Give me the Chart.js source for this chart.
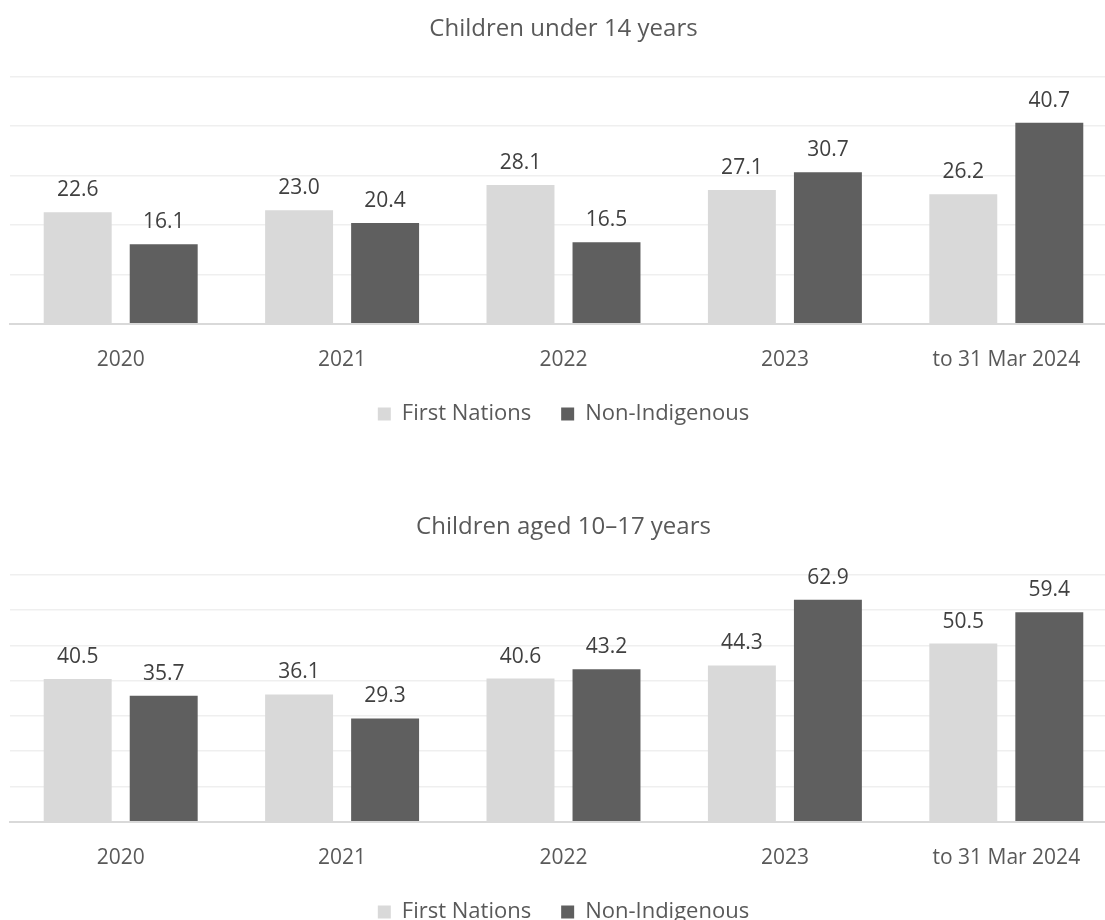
<!DOCTYPE html>
<html><head><meta charset="utf-8">
<script src="https://cdn.jsdelivr.net/npm/chart.js@4/dist/chart.umd.min.js"></script>
<style>
html,body{margin:0;padding:0;background:#fff;overflow:hidden;width:1105px;height:920px}
.wrap{position:relative;width:1127px;height:498px}
canvas{display:block}
</style></head><body>
<div class="wrap"><canvas id="c1" width="1127" height="498"></canvas></div>
<div class="wrap"><canvas id="c2" width="1127" height="498"></canvas></div>
<script>
const categories = ['2020', '2021', '2022', '2023', 'to 31 Mar 2024'];
const seriesNames = ['First Nations', 'Non-Indigenous'];
const under14FirstNations = [22.6, 23.0, 28.1, 27.1, 26.2];
const under14NonIndigenous = [16.1, 20.4, 16.5, 30.7, 40.7];
const aged10to17FirstNations = [40.5, 36.1, 40.6, 44.3, 50.5];
const aged10to17NonIndigenous = [35.7, 29.3, 43.2, 62.9, 59.4];
const under14Ticks = [0, 10, 20, 30, 40, 50];
const aged10to17Ticks = [0, 10, 20, 30, 40, 50, 60, 70];
const titles = ['Children under 14 years', 'Children aged 10\u201317 years'];

const FONT = '"Open Sans", "Noto Sans", sans-serif';
const TEXT = '#595959';
const LIGHT = '#d9d9d9';
const DARK = '#5f5f5f';

const valueLabels = {
  id: 'valueLabels',
  afterDatasetsDraw(chart) {
    const ctx = chart.ctx;
    ctx.save();
    ctx.font = '21px ' + FONT;
    ctx.fillStyle = '#404040';
    ctx.textAlign = 'center';
    ctx.textBaseline = 'alphabetic';
    chart.data.datasets.forEach((ds, i) => {
      chart.getDatasetMeta(i).data.forEach((bar, j) => {
        ctx.fillText(ds.data[j].toFixed(1), bar.x, bar.y - 16);
      });
    });
    ctx.restore();
  }
};

function makeChart(id, title, fn, ni, ticks) {
  return new Chart(document.getElementById(id), {
    type: 'bar',
    data: {
      labels: categories,
      datasets: [
        { label: seriesNames[0], data: fn, backgroundColor: LIGHT, borderWidth: 0 },
        { label: seriesNames[1], data: ni, backgroundColor: DARK, borderWidth: 0 }
      ]
    },
    options: {
      responsive: false,
      animation: false,
      events: [],
      devicePixelRatio: 1,
      categoryPercentage: 0.777,
      barPercentage: 0.79,
      layout: { padding: { left: 10, right: 10, top: 0, bottom: 63 } },
      plugins: {
        title: {
          display: true, text: title, color: TEXT,
          font: { family: FONT, size: 24, weight: 'normal' },
          padding: { top: 15, bottom: 33 }
        },
        legend: {
          position: 'bottom',
          labels: {
            boxWidth: 13, boxHeight: 13, padding: 30, color: TEXT,
            font: { family: FONT, size: 22 }
          }
        },
        tooltip: { enabled: false }
      },
      scales: {
        x: {
          grid: { display: false, drawTicks: true, tickLength: 24 },
          border: { display: true, color: LIGHT, width: 2 },
          ticks: { color: TEXT, font: { family: FONT, size: 21 }, padding: 0, maxRotation: 0 }
        },
        y: {
          min: ticks[0], max: ticks[ticks.length - 1],
          ticks: { display: false, stepSize: ticks[1] - ticks[0] },
          grid: { color: '#efefef', lineWidth: 1.5, drawTicks: false },
          border: { display: false }
        }
      }
    },
    plugins: [valueLabels]
  });
}

document.fonts.load('20px "Open Sans"').finally(() => {
  makeChart('c1', titles[0], under14FirstNations, under14NonIndigenous, under14Ticks);
  makeChart('c2', titles[1], aged10to17FirstNations, aged10to17NonIndigenous, aged10to17Ticks);
});
</script>
</body></html>
